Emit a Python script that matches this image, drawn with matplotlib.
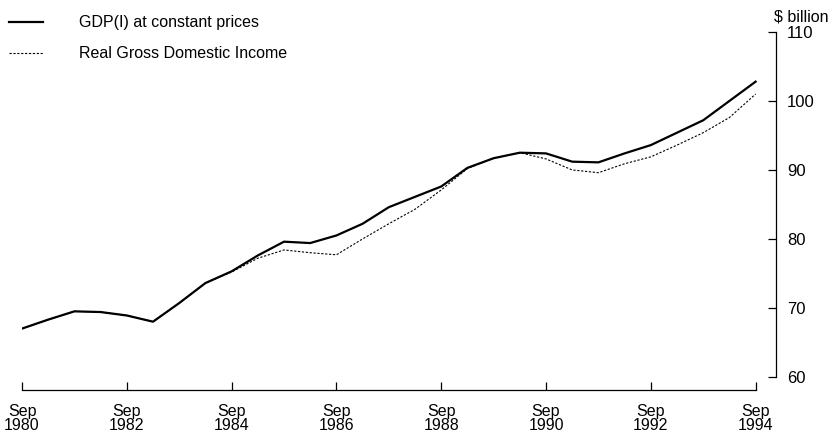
import numpy as np
import matplotlib.pyplot as plt

plt.rcParams['font.family'] = ['Liberation Sans', 'DejaVu Sans']

# half-yearly observations, Sep 1980 .. Sep 1994 ($ billion)
periods = ['Sep 1980', 'Mar 1981', 'Sep 1981', 'Mar 1982', 'Sep 1982', 'Mar 1983',
           'Sep 1983', 'Mar 1984', 'Sep 1984', 'Mar 1985', 'Sep 1985', 'Mar 1986',
           'Sep 1986', 'Mar 1987', 'Sep 1987', 'Mar 1988', 'Sep 1988', 'Mar 1989',
           'Sep 1989', 'Mar 1990', 'Sep 1990', 'Mar 1991', 'Sep 1991', 'Mar 1992',
           'Sep 1992', 'Mar 1993', 'Sep 1993', 'Mar 1994', 'Sep 1994']
gdp = [67.0, 68.3, 69.5, 69.4, 68.9, 68.0, 70.7, 73.6, 75.3, 77.6, 79.6, 79.4,
       80.5, 82.2, 84.6, 86.1, 87.6, 90.3, 91.7, 92.5, 92.4, 91.2, 91.1, 92.4,
       93.6, 95.4, 97.2, 100.0, 102.8]
rgdi = [67.0, 68.3, 69.5, 69.4, 68.9, 68.0, 70.7, 73.6, 75.2, 77.2, 78.4, 78.0,
        77.7, 80.0, 82.2, 84.3, 87.1, 90.2, 91.7, 92.5, 91.6, 90.0, 89.6, 90.9,
        91.9, 93.6, 95.4, 97.6, 101.0]
tick_labels = ['Sep\n1980', 'Sep\n1982', 'Sep\n1984', 'Sep\n1986',
               'Sep\n1988', 'Sep\n1990', 'Sep\n1992', 'Sep\n1994']

x = np.arange(len(periods))

fig = plt.figure(figsize=(8.34, 4.37), dpi=100)
ax = fig.add_axes([0.0264, 0.1076, 0.9041, 0.8192])

ax.plot(x, gdp, color='black', lw=1.6, label='GDP(I) at constant prices')
ax.plot(x, rgdi, color='black', lw=0.8, ls=(0, (2, 1.5)), label='Real Gross Domestic Income')

ax.set_xlim(0, 28.78)
ax.set_ylim(58.1, 110)

for s in ['top', 'left']:
    ax.spines[s].set_visible(False)
ax.spines['bottom'].set_bounds(0, 28)
ax.spines['right'].set_bounds(60, 110)
ax.spines['bottom'].set_linewidth(0.9)
ax.spines['right'].set_linewidth(0.9)

ax.set_xticks(x[::4])
ax.set_xticklabels(tick_labels, fontsize=11.5, linespacing=0.9)
ax.tick_params(axis='x', direction='in', length=6, width=0.9, pad=10)

ax.yaxis.tick_right()
ax.set_yticks([60, 70, 80, 90, 100, 110])
ax.tick_params(axis='y', direction='in', length=6, width=0.9, labelsize=12, pad=8)
fig.text(0.928, 0.962, '$ billion', fontsize=11.5, ha='left', va='center')

fig.legend(loc='upper left', bbox_to_anchor=(-0.006, 0.998), frameon=False,
           fontsize=11.5, handlelength=2.1, handletextpad=2.25, labelspacing=1.0)

fig.savefig('out.png', dpi=100)
